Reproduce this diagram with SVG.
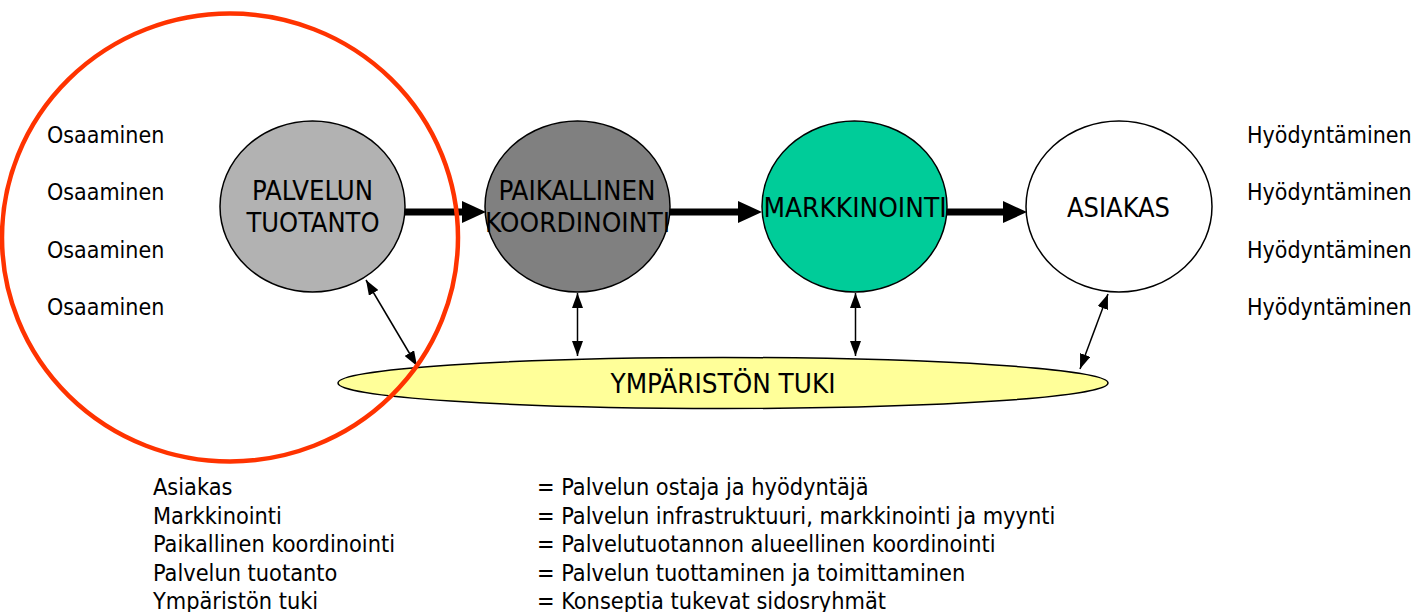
<svg xmlns="http://www.w3.org/2000/svg" width="1414" height="612" viewBox="0 0 1414 612">
  <style>
    text { font-family: "DejaVu Sans Condensed", "DejaVu Sans", Tahoma, sans-serif; font-stretch: condensed; fill: #000; }
    .node { stroke: #000; stroke-width: 1.5; }
    .lbl { font-size: 26px; text-anchor: middle; }
    .side { font-size: 23px; }
    .legend { font-size: 23.3px; }
    .flow { stroke: #000; stroke-width: 7; fill: none; }
    .link { stroke: #000; stroke-width: 1.5; fill: none; }
  </style>
  <defs>
    <marker id="bigHead" markerUnits="userSpaceOnUse" markerWidth="24" markerHeight="22" refX="0" refY="11" orient="auto">
      <path d="M0,0 L24,11 L0,22 z" fill="#000"/>
    </marker>
    <marker id="smallHead" markerUnits="userSpaceOnUse" markerWidth="15" markerHeight="11" refX="15" refY="5.5" orient="auto-start-reverse">
      <path d="M0,0 L15,5.5 L0,11 z" fill="#000"/>
    </marker>
  </defs>

  <rect width="1414" height="612" fill="#fff"/>

  <!-- environment support (ellipse under the chain) -->
  <g id="ymparisto">
    <ellipse class="node" cx="723" cy="383" rx="385" ry="25.5" fill="#ffff99"/>
    <text class="lbl" x="723" y="393" textLength="225" lengthAdjust="spacingAndGlyphs">YMPÄRISTÖN TUKI</text>
  </g>

  <!-- connectors -->
  <g id="connectors">
    <line class="flow" x1="405" y1="212" x2="462" y2="212" marker-end="url(#bigHead)"/>
    <line class="flow" x1="670" y1="212" x2="738" y2="212" marker-end="url(#bigHead)"/>
    <line class="flow" x1="947" y1="212" x2="1003" y2="212" marker-end="url(#bigHead)"/>
    <line class="link" x1="366" y1="280" x2="417" y2="366" marker-start="url(#smallHead)" marker-end="url(#smallHead)"/>
    <line class="link" x1="577.5" y1="293" x2="577.5" y2="356" marker-start="url(#smallHead)" marker-end="url(#smallHead)"/>
    <line class="link" x1="855.5" y1="293" x2="855.5" y2="356" marker-start="url(#smallHead)" marker-end="url(#smallHead)"/>
    <line class="link" x1="1108" y1="294" x2="1080" y2="369" marker-start="url(#smallHead)" marker-end="url(#smallHead)"/>
  </g>

  <g id="palvelun-tuotanto">
    <ellipse class="node" cx="312.5" cy="206.5" rx="92.5" ry="85.5" fill="#b2b2b2"/>
    <text class="lbl" x="312.5" y="200" textLength="121" lengthAdjust="spacingAndGlyphs">PALVELUN</text>
    <text class="lbl" x="313" y="232" textLength="133" lengthAdjust="spacingAndGlyphs">TUOTANTO</text>
  </g>

  <g id="paikallinen-koordinointi">
    <ellipse class="node" cx="577.5" cy="206.5" rx="92.5" ry="85.5" fill="#808080"/>
    <text class="lbl" x="577" y="200" textLength="157" lengthAdjust="spacingAndGlyphs">PAIKALLINEN</text>
    <text class="lbl" x="577.5" y="232" textLength="185" lengthAdjust="spacingAndGlyphs">KOORDINOINTI</text>
  </g>

  <g id="markkinointi">
    <ellipse class="node" cx="854.5" cy="206.5" rx="92.5" ry="85.5" fill="#00cc99"/>
    <text class="lbl" x="855" y="217" textLength="183" lengthAdjust="spacingAndGlyphs">MARKKINOINTI</text>
  </g>

  <g id="asiakas">
    <ellipse class="node" cx="1119" cy="206.5" rx="93" ry="85.5" fill="#fff"/>
    <text class="lbl" x="1118.5" y="217" textLength="103" lengthAdjust="spacingAndGlyphs">ASIAKAS</text>
  </g>

  <!-- competence column -->
  <g id="osaaminen">
    <text class="side" x="47" y="143">Osaaminen</text>
    <text class="side" x="47" y="200">Osaaminen</text>
    <text class="side" x="47" y="258">Osaaminen</text>
    <text class="side" x="47" y="315">Osaaminen</text>
  </g>

  <!-- utilisation column -->
  <g id="hyodyntaminen">
    <text class="side" x="1247" y="143">Hyödyntäminen</text>
    <text class="side" x="1247" y="200">Hyödyntäminen</text>
    <text class="side" x="1247" y="258">Hyödyntäminen</text>
    <text class="side" x="1247" y="315">Hyödyntäminen</text>
  </g>

  <!-- highlight ring around service production -->
  <g id="korostus">
    <ellipse cx="230" cy="237.5" rx="228" ry="224" fill="none" stroke="#ff3300" stroke-width="4.5"/>
  </g>

  <!-- legend -->
  <g id="selite">
    <text class="legend" x="153" y="495">Asiakas</text>
    <text class="legend" x="153" y="524">Markkinointi</text>
    <text class="legend" x="153" y="552">Paikallinen koordinointi</text>
    <text class="legend" x="153" y="581">Palvelun tuotanto</text>
    <text class="legend" x="153" y="609">Ympäristön tuki</text>
    <text class="legend" x="537" y="495">= Palvelun ostaja ja hyödyntäjä</text>
    <text class="legend" x="537" y="524">= Palvelun infrastruktuuri, markkinointi ja myynti</text>
    <text class="legend" x="537" y="552">= Palvelutuotannon alueellinen koordinointi</text>
    <text class="legend" x="537" y="581">= Palvelun tuottaminen ja toimittaminen</text>
    <text class="legend" x="537" y="609">= Konseptia tukevat sidosryhmät</text>
  </g>
</svg>
